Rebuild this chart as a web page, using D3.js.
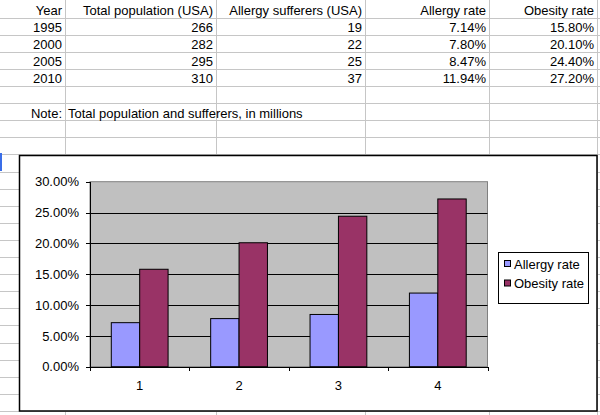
<!DOCTYPE html>
<html lang="en">
<head>
    <meta charset="UTF-8">
    <title>Allergy and obesity rates</title>
    <style>
        body{
            margin: 0;
            background: #fff;
        }
        svg{
            display: block;
            font-family: "Liberation Sans", Arial, sans-serif;
        }
        text{
            font-size: 13px;
            fill: #000;
        }
        .grid line{
            stroke: #c6c6c6;
            stroke-width: 1px;
        }
        .axis path, .axis line{
            stroke: #000;
            shape-rendering: crispEdges;
        }
    </style>
    <script src="https://cdn.jsdelivr.net/npm/d3@7/dist/d3.min.js"></script>
</head>
<body>
<svg id="svg_main"></svg>
<script>
    // table data
    const years = ["1995", "2000", "2005", "2010"];
    const population = [266, 282, 295, 310];
    const sufferers = [19, 22, 25, 37];
    const allergyRate = [0.0714, 0.0780, 0.0847, 0.1194];
    const obesityRate = [0.1580, 0.2010, 0.2440, 0.2720];
    const headers = ["Year", "Total population (USA)", "Allergy sufferers (USA)", "Allergy rate", "Obesity rate"];
    const noteLabel = "Note:";
    const noteText = "Total population and sufferers, in millions";

    // chart data
    const categories = ["1", "2", "3", "4"];
    const seriesNames = ["Allergy rate", "Obesity rate"];
    const seriesColors = ["#9999ff", "#993366"];
    const yTicks = [0, 0.05, 0.10, 0.15, 0.20, 0.25, 0.30];

    const width = 600;
    const height = 415;
    let svg = d3.select('#svg_main').attr('width', width).attr('height', height);

    //------------------------------------
    // spreadsheet grid
    const colEdges = [0, 65, 216, 365, 489, 597];
    const rowTop = 0.5, rowH = 17.1;
    let rowY = i => rowTop + rowH * i;
    let grid = svg.append("g").attr("class", "grid");
    for (let i = 1; i < 25; i++) {
        let y = Math.round(rowY(i)) + 0.5;
        grid.append("line").attr("x1", 0).attr("x2", width).attr("y1", y).attr("y2", y);
    }
    colEdges.slice(1).forEach(x => {
        grid.append("line").attr("x1", x + 0.5).attr("x2", x + 0.5).attr("y1", 0).attr("y2", height);
    });
    // blue mark at the left edge (active row)
    svg.append("rect").attr("x", 0).attr("y", 153).attr("width", 2).attr("height", 18).attr("fill", "#3a6ee8");

    const pct = d3.format(".2%");
    let rows = [headers].concat(years.map((y, i) => [y, population[i], sufferers[i], pct(allergyRate[i]), pct(obesityRate[i])]));
    let cells = svg.append("g");
    rows.forEach((r, ri) => {
        r.forEach((v, ci) => {
            cells.append("text")
                .attr("x", colEdges[ci + 1] - 3)
                .attr("y", rowY(ri) + 14.5)
                .attr("text-anchor", "end")
                .text(v);
        });
    });
    cells.append("text").attr("x", colEdges[1] - 3).attr("y", rowY(6) + 14.5)
        .attr("text-anchor", "end").text(noteLabel);
    cells.append("text").attr("x", colEdges[1] + 3).attr("y", rowY(6) + 14.5).text(noteText);

    //------------------------------------
    // chart object
    let chart = svg.append("g");
    chart.append("rect")
        .attr("x", 19.5).attr("y", 155.5).attr("width", 577.5).attr("height", 255.5)
        .attr("fill", "#fff").attr("stroke", "#000").attr("stroke-width", 1.5);

    const plot = {left: 90, right: 487.5, top: 181.7, bottom: 366.7};
    let yScale = d3.scaleLinear().domain([0, 0.30]).range([plot.bottom, plot.top]);
    let xScale = d3.scaleBand().domain(categories).range([plot.left, plot.right]);
    // gap width 150% -> band = 3.5 bar widths
    let barW = xScale.bandwidth() / 3.5;

    chart.append("rect")
        .attr("x", plot.left).attr("y", plot.top)
        .attr("width", plot.right - plot.left).attr("height", plot.bottom - plot.top)
        .attr("fill", "#c0c0c0").attr("stroke", "#808080");

    chart.append("g")
        .selectAll("line")
        .data(yTicks.slice(1, -1))
        .enter().append("line")
        .attr("x1", plot.left).attr("x2", plot.right)
        .attr("y1", d => Math.round(yScale(d)) + 0.5).attr("y2", d => Math.round(yScale(d)) + 0.5)
        .attr("stroke", "#000");

    let series = [allergyRate, obesityRate];
    series.forEach((vals, si) => {
        chart.append("g")
            .selectAll("rect")
            .data(vals)
            .enter().append("rect")
            .attr("x", (d, i) => xScale(categories[i]) + 0.75 * barW + si * barW)
            .attr("y", d => yScale(d))
            .attr("width", barW)
            .attr("height", d => plot.bottom - yScale(d))
            .attr("fill", seriesColors[si])
            .attr("stroke", "#000")
            .attr("stroke-width", 1);
    });

    chart.append("g")
        .attr("class", "axis")
        .attr("transform", `translate(${plot.left},0)`)
        .call(d3.axisLeft(yScale).tickValues(yTicks).tickFormat(pct).tickSize(4).tickPadding(7).tickSizeOuter(0))
        .call(g => g.selectAll("text").style("font-size", "13px").style("font-family", "inherit"));

    let xAxis = chart.append("g")
        .attr("class", "axis")
        .attr("transform", `translate(0,${plot.bottom})`)
        .call(d3.axisBottom(xScale).tickSize(0).tickPadding(14).tickSizeOuter(0))
        .call(g => g.selectAll("text").style("font-size", "13px").style("font-family", "inherit"));
    // ticks sit on category boundaries
    xAxis.selectAll("line.sep")
        .data(categories.map(c => xScale(c)).concat([plot.right]))
        .enter().append("line")
        .attr("class", "sep")
        .attr("x1", d => Math.round(d) + 0.5).attr("x2", d => Math.round(d) + 0.5)
        .attr("y1", 0).attr("y2", 4);

    // legend
    let legend = chart.append("g");
    legend.append("rect")
        .attr("x", 498.5).attr("y", 252.5).attr("width", 90).attr("height", 51)
        .attr("fill", "#fff").attr("stroke", "#000");
    seriesNames.forEach((name, i) => {
        let cy = 264 + i * 19.5;
        legend.append("rect")
            .attr("x", 504.5).attr("y", cy - 3.5).attr("width", 6).attr("height", 6)
            .attr("fill", seriesColors[i]).attr("stroke", "#000");
        legend.append("text").attr("x", 514).attr("y", cy + 4.5).text(name);
    });
</script>
</body>
</html>
